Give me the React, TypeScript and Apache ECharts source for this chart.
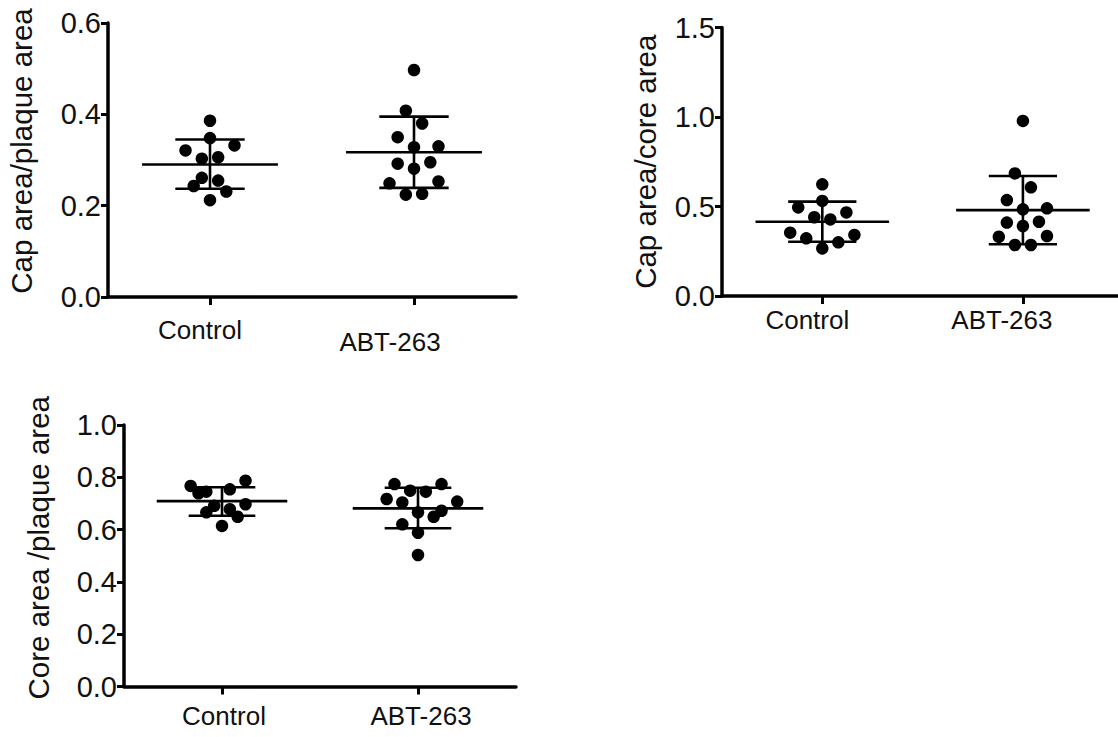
import React, { useEffect, useRef } from "react";
import * as echarts from "echarts";

// ---------- data ----------
const categories = ["Control", "ABT-263"];

// Panel 1: Cap area / plaque area
const p1Control = [0.386, 0.348, 0.321, 0.332, 0.303, 0.306, 0.261, 0.255, 0.243, 0.231, 0.212];
const p1ControlSlot = [0, 0, -3, 3, -1, 1, -1, 1, -2, 2, 0];
const p1Abt = [0.497, 0.408, 0.38, 0.35, 0.328, 0.33, 0.292, 0.295, 0.281, 0.249, 0.253, 0.224, 0.226];
const p1AbtSlot = [0, -1, 1, -2, 0, 3, -2, 2, 0, -3, 3, -1, 1];
const p1Stats = [
  [0.29, 0.237, 0.345],
  [0.317, 0.239, 0.395],
];

// Panel 2: Cap area / core area
const p2Control = [0.624, 0.531, 0.495, 0.467, 0.44, 0.428, 0.354, 0.341, 0.322, 0.3, 0.266];
const p2ControlSlot = [0, 0, -3, 3, -1, 1, -4, 4, -2, 2, 0];
const p2Abt = [0.978, 0.685, 0.607, 0.536, 0.484, 0.49, 0.41, 0.415, 0.391, 0.331, 0.335, 0.285, 0.285];
const p2AbtSlot = [0, -1, 1, -2, 0, 3, -2, 2, 0, -3, 3, -1, 1];
const p2Stats = [
  [0.415, 0.303, 0.527],
  [0.48, 0.289, 0.67],
];

// Panel 3: Core area / plaque area
const p3Control = [0.767, 0.787, 0.739, 0.745, 0.754, 0.691, 0.697, 0.678, 0.666, 0.649, 0.614];
const p3ControlSlot = [-4, 3, -3, -2, 1, -1, 3, 1, -2, 2, 0];
const p3Abt = [0.774, 0.774, 0.749, 0.745, 0.717, 0.704, 0.707, 0.666, 0.672, 0.649, 0.62, 0.588, 0.503];
const p3AbtSlot = [-3, 3, -1, 1, -4, -2, 5, 0, 3, 2, -2, 0, 0];
const p3Stats = [
  [0.709, 0.653, 0.762],
  [0.681, 0.605, 0.76],
];

const p1Ticks = { max: 0.6, interval: 0.2 };
const p2Ticks = { max: 1.5, interval: 0.5 };
const p3Ticks = { max: 1.0, interval: 0.2 };

// ---------- styling constants ----------
const FONT = "'Liberation Sans', Arial, Helvetica, sans-serif";
const SLOT = 0.04; // jitter step, x units
const MEAN_HALF = 0.333;
const CAP_HALF = 0.17;
const TEXT = "#111";

function points(vals: number[], slots: number[], x: number) {
  return vals.map((v, i) => [x + slots[i] * SLOT, v]);
}

export default function App() {
  const ref = useRef<HTMLDivElement>(null);
  useEffect(() => {
    document.body.style.margin = "0";
    if (!ref.current) return;
    const chart = echarts.init(ref.current, null, { renderer: "svg" });

    const grids = [
      { left: 108, top: 23, width: 408, height: 274 },
      { left: 722, top: 27.5, width: 396, height: 268.5 },
      { left: 124, top: 425, width: 392, height: 261.5 },
    ];
    const xMax = [2.5, 2.474, 2.5];
    const labelMargin = [20, 11, 16];
    const labelRich = [
      { c: { padding: [0, 20, 0, 0] }, a: { padding: [12, 48, 0, 0] } },
      { c: { padding: [0, 30, 0, 0] }, a: { padding: [0, 42, 0, 0] } },
      { c: { padding: [0, 0, 0, 4] }, a: { padding: [0, 0, 0, 6] } },
    ];
    const titles = ["Cap area/plaque area", "Cap area/core area", "Core area /plaque area"];
    const titleGap = [72, 62, 71];
    const titlePad = [
      [0, 0, 0, 18],
      [0, 0, 0, 0],
      [0, 0, 0, 16],
    ];
    const ticks = [p1Ticks, p2Ticks, p3Ticks];

    const xAxis = grids.map((_, i) => ({
      type: "value",
      gridIndex: i,
      min: 0.5,
      max: xMax[i],
      splitLine: { show: false },
      axisLine: { show: true, onZero: false, lineStyle: { color: "#000", width: 3.5 } },
      axisTick: { show: true, customValues: [1, 2], length: 8, lineStyle: { color: "#000", width: 3 } },
      axisLabel: {
        show: true,
        customValues: [1, 2],
        margin: labelMargin[i],
        fontFamily: FONT,
        fontSize: 26,
        color: TEXT,
        formatter: (v: number) => (v === 1 ? `{c|${categories[0]}}` : `{a|${categories[1]}}`),
        rich: {
          c: { fontFamily: FONT, fontSize: 26, color: TEXT, ...labelRich[i].c },
          a: { fontFamily: FONT, fontSize: 26, color: TEXT, ...labelRich[i].a },
        },
      },
    }));

    const yAxis = grids.map((_, i) => ({
      type: "value",
      gridIndex: i,
      min: 0,
      max: ticks[i].max,
      interval: ticks[i].interval,
      name: titles[i],
      nameLocation: "middle",
      nameGap: titleGap[i],
      nameTextStyle: { fontFamily: FONT, fontSize: 29.5, color: TEXT, padding: titlePad[i] },
      splitLine: { show: false },
      axisLine: { show: true, onZero: false, lineStyle: { color: "#000", width: 3.5 } },
      axisTick: { show: true, inside: false, length: 7, lineStyle: { color: "#000", width: 3 } },
      axisLabel: {
        margin: 7,
        fontFamily: FONT,
        fontSize: 29,
        color: TEXT,
        formatter: (v: number) => v.toFixed(1),
      },
    }));

    const panels = [
      { c: p1Control, cs: p1ControlSlot, a: p1Abt, as: p1AbtSlot, st: p1Stats },
      { c: p2Control, cs: p2ControlSlot, a: p2Abt, as: p2AbtSlot, st: p2Stats },
      { c: p3Control, cs: p3ControlSlot, a: p3Abt, as: p3AbtSlot, st: p3Stats },
    ];

    const series: any[] = [];
    panels.forEach((p, i) => {
      series.push({
        type: "custom",
        xAxisIndex: i,
        yAxisIndex: i,
        clip: false,
        z: 2,
        encode: { x: 0, y: [1, 2, 3] },
        data: p.st.map((s, k) => [k + 1, s[0], s[1], s[2]]),
        renderItem: (params: any, api: any) => {
          const x = api.value(0);
          const m = api.value(1);
          const lo = api.value(2);
          const hi = api.value(3);
          const style = { stroke: "#000", lineWidth: 2.6 };
          const seg = (a: number[], b: number[]) => {
            const p1 = api.coord(a);
            const p2 = api.coord(b);
            return { type: "line", shape: { x1: p1[0], y1: p1[1], x2: p2[0], y2: p2[1] }, style };
          };
          return {
            type: "group",
            children: [
              seg([x - MEAN_HALF, m], [x + MEAN_HALF, m]),
              seg([x - CAP_HALF, hi], [x + CAP_HALF, hi]),
              seg([x - CAP_HALF, lo], [x + CAP_HALF, lo]),
              seg([x, lo], [x, hi]),
            ],
          };
        },
      });
      [
        { vals: p.c, slots: p.cs, x: 1, name: categories[0] },
        { vals: p.a, slots: p.as, x: 2, name: categories[1] },
      ].forEach((g) =>
        series.push({
          type: "scatter",
          name: g.name,
          xAxisIndex: i,
          yAxisIndex: i,
          symbolSize: 12.5,
          itemStyle: { color: "#000", opacity: 1 },
          z: 3,
          data: points(g.vals, g.slots, g.x),
        })
      );
    });

    chart.setOption({
      animation: false,
      backgroundColor: "#fff",
      grid: grids,
      xAxis,
      yAxis,
      series,
    });
    return () => chart.dispose();
  }, []);
  return <div ref={ref} style={{ width: 1118, height: 737 }} />;
}
